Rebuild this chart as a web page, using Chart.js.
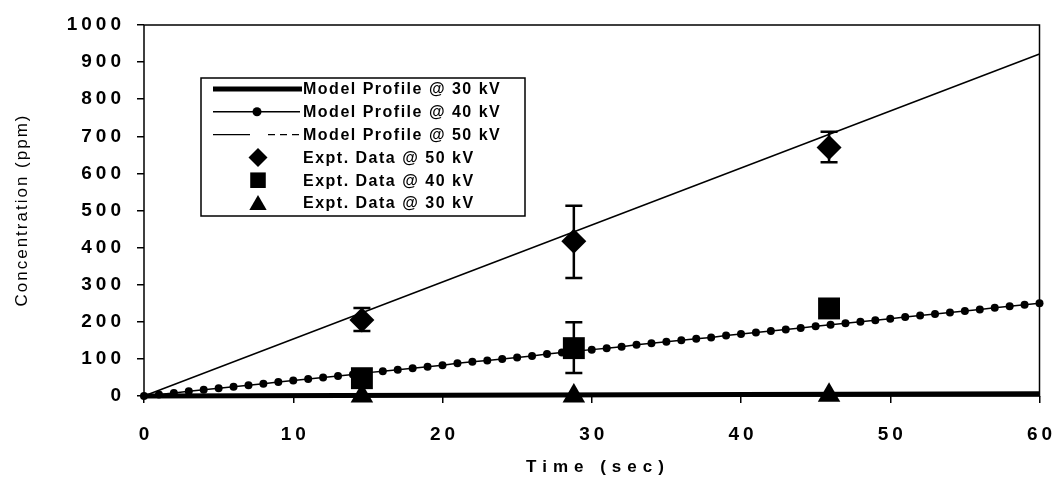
<!DOCTYPE html>
<html>
<head>
<meta charset="utf-8">
<script src="https://cdn.jsdelivr.net/npm/chart.js@4.4.1/dist/chart.umd.min.js"></script>
<style>
  html, body { margin: 0; padding: 0; background: #fff; }
  #wrap { width: 1055px; height: 478px; }
</style>
</head>
<body>
<div id="wrap"><canvas id="chart"></canvas></div>
<script>
// model profiles
const model30Time = [0, 60]
const model30Values = [0, 6]

const model40Time = [0, 1, 2, 3, 4, 5, 6, 7, 8, 9, 10, 11, 12, 13, 14, 15, 16, 17, 18, 19, 20,
  21, 22, 23, 24, 25, 26, 27, 28, 29, 30, 31, 32, 33, 34, 35, 36, 37, 38, 39, 40,
  41, 42, 43, 44, 45, 46, 47, 48, 49, 50, 51, 52, 53, 54, 55, 56, 57, 58, 59, 60]
const model40Values = [0, 4, 8, 13, 17, 21, 25, 29, 33, 38, 42, 46, 50, 54, 58, 63, 67, 71, 75, 79, 83,
  88, 92, 96, 100, 104, 108, 113, 117, 121, 125, 129, 133, 138, 142, 146, 150, 154, 158, 163, 167,
  171, 175, 179, 183, 188, 192, 196, 200, 204, 208, 213, 217, 221, 225, 229, 233, 238, 242, 246, 250]

const model50Time = [0, 60]
const model50Values = [0, 922]

// experimental data
const exptTime = [14.6, 28.8, 45.9]
const expt50 = [205, 417, 670]
const expt50Low = [175, 318, 630]
const expt50High = [237, 513, 712]
const expt40 = [48, 129, 236]
const expt40Low = [5, 62, null]
const expt40High = [70, 199, null]
const expt30 = [0, 0, 2]

const xTicks = [0, 10, 20, 30, 40, 50, 60]
const yTicks = [0, 100, 200, 300, 400, 500, 600, 700, 800, 900, 1000]

const FONT = "'Liberation Sans', Arial, sans-serif"

function pts(xs, ys) {
  return xs.map((x, i) => ({ x: x, y: ys[i] }))
}

function setSpacing(chart) {
  chart.ctx.letterSpacing = '4px'
}

const spacingPlugin = {
  id: 'spacing',
  beforeUpdate: setSpacing,
  beforeLayout: setSpacing,
  beforeDraw: setSpacing
}

// plot frame + error bars, under the markers
const framePlugin = {
  id: 'frame',
  beforeDatasetsDraw(chart) {
    const ctx = chart.ctx
    const a = chart.chartArea
    const x = chart.scales.x
    const y = chart.scales.y
    ctx.save()
    ctx.strokeStyle = '#000'
    ctx.lineWidth = 1.5
    ctx.strokeRect(a.left, a.top, a.right - a.left, a.bottom - a.top)

    const bars = [[expt50Low, expt50High], [expt40Low, expt40High]]
    ctx.lineWidth = 2.5
    bars.forEach(([lo, hi]) => {
      exptTime.forEach((t, i) => {
        if (lo[i] == null) return
        const px = x.getPixelForValue(t)
        const p1 = y.getPixelForValue(lo[i])
        const p2 = y.getPixelForValue(hi[i])
        ctx.beginPath()
        ctx.moveTo(px, p1); ctx.lineTo(px, p2)
        ctx.moveTo(px - 8.5, p1); ctx.lineTo(px + 8.5, p1)
        ctx.moveTo(px - 8.5, p2); ctx.lineTo(px + 8.5, p2)
        ctx.stroke()
      })
    })
    ctx.restore()
  }
}

// legend box and axis titles
const legendPlugin = {
  id: 'boxLegend',
  afterDraw(chart) {
    const ctx = chart.ctx
    const draw = Chart.helpers.drawPoint
    ctx.save()
    ctx.fillStyle = '#fff'
    ctx.strokeStyle = '#000'
    ctx.lineWidth = 1.5
    ctx.fillRect(201, 78, 324, 138)
    ctx.strokeRect(201, 78, 324, 138)

    const labels = ['Model Profile @ 30 kV', 'Model Profile @ 40 kV', 'Model Profile @ 50 kV',
      'Expt. Data @ 50 kV', 'Expt. Data @ 40 kV', 'Expt. Data @ 30 kV']
    const rowY = labels.map((l, i) => 89 + i * 22.8)

    ctx.fillStyle = '#000'
    ctx.strokeStyle = '#000'
    // 30 kV thick line
    ctx.lineWidth = 5
    ctx.beginPath(); ctx.moveTo(213, rowY[0]); ctx.lineTo(302, rowY[0]); ctx.stroke()
    // 40 kV line with marker
    ctx.lineWidth = 1.5
    ctx.beginPath(); ctx.moveTo(213, rowY[1]); ctx.lineTo(300, rowY[1]); ctx.stroke()
    draw(ctx, { pointStyle: 'circle', radius: 4.5, borderWidth: 0 }, 257, rowY[1])
    // 50 kV dashed
    ctx.lineWidth = 1.2
    ctx.beginPath(); ctx.moveTo(213, rowY[2]); ctx.lineTo(250, rowY[2]); ctx.stroke()
    ctx.setLineDash([7, 5])
    ctx.beginPath(); ctx.moveTo(268, rowY[2]); ctx.lineTo(301, rowY[2]); ctx.stroke()
    ctx.setLineDash([])
    draw(ctx, { pointStyle: 'rectRot', radius: 9.5, borderWidth: 0 }, 258, rowY[3])
    draw(ctx, { pointStyle: 'rect', radius: 11, borderWidth: 0 }, 258, rowY[4])
    draw(ctx, { pointStyle: 'triangle', radius: 10, borderWidth: 0 }, 258, rowY[5] + 2)

    ctx.letterSpacing = '1.5px'
    ctx.font = 'bold 16px ' + FONT
    ctx.textBaseline = 'middle'
    ctx.textAlign = 'left'
    labels.forEach((l, i) => ctx.fillText(l, 303, rowY[i] + 1))

    // axis titles
    ctx.letterSpacing = '6px'
    ctx.font = 'bold 17px ' + FONT
    ctx.textAlign = 'center'
    ctx.fillText('Time (sec)', 598, 467)

    ctx.letterSpacing = '2px'
    ctx.font = '17px ' + FONT
    ctx.translate(22, 210)
    ctx.rotate(-Math.PI / 2)
    ctx.fillText('Concentration (ppm)', 0, 0)
    ctx.restore()
  }
}

new Chart(document.getElementById('chart'), {
  type: 'line',
  data: {
    datasets: [
      {
        label: 'Expt. Data @ 50 kV',
        data: pts(exptTime, expt50),
        showLine: false,
        pointStyle: 'rectRot',
        pointRadius: 12.5,
        pointBorderWidth: 0,
        backgroundColor: '#000',
        borderColor: '#000',
        clip: false
      },
      {
        label: 'Expt. Data @ 40 kV',
        data: pts(exptTime, expt40),
        showLine: false,
        pointStyle: 'rect',
        pointRadius: 15.5,
        pointBorderWidth: 0,
        backgroundColor: '#000',
        borderColor: '#000',
        clip: false
      },
      {
        label: 'Expt. Data @ 30 kV',
        data: pts(exptTime, expt30),
        showLine: false,
        pointStyle: 'triangle',
        pointRadius: 13,
        pointBorderWidth: 0,
        backgroundColor: '#000',
        borderColor: '#000',
        clip: false
      },
      {
        label: 'Model Profile @ 30 kV',
        data: pts(model30Time, model30Values),
        borderColor: '#000',
        borderWidth: 5,
        pointRadius: 0,
        clip: false
      },
      {
        label: 'Model Profile @ 40 kV',
        data: pts(model40Time, model40Values),
        borderColor: '#000',
        backgroundColor: '#000',
        borderWidth: 1.5,
        pointRadius: 4,
        pointBorderWidth: 0,
        clip: false
      },
      {
        label: 'Model Profile @ 50 kV',
        data: pts(model50Time, model50Values),
        borderColor: '#000',
        borderWidth: 1.5,
        pointRadius: 0,
        clip: false
      }
    ]
  },
  options: {
    responsive: true,
    maintainAspectRatio: false,
    animation: false,
    events: [],
    layout: {
      padding: { left: 0, right: 14, top: 25, bottom: 0 }
    },
    plugins: {
      legend: { display: false },
      tooltip: { enabled: false }
    },
    scales: {
      x: {
        type: 'linear',
        min: 0,
        max: 60,
        afterBuildTicks: (s) => { s.ticks = xTicks.map(v => ({ value: v })) },
        afterFit: (s) => { s.height = 82; s.paddingLeft = 0; s.paddingRight = 0 },
        border: { display: false },
        grid: { drawOnChartArea: false, drawTicks: true, tickLength: 7, color: '#000', lineWidth: 1.5 },
        ticks: {
          autoSkip: false,
          maxRotation: 0,
          padding: 20,
          labelOffset: 2,
          color: '#000',
          callback: (v) => String(v),
          font: { family: FONT, size: 19, weight: 'bold' }
        }
      },
      y: {
        min: 0,
        max: 1000,
        afterBuildTicks: (s) => { s.ticks = yTicks.map(v => ({ value: v })) },
        afterFit: (s) => { s.width = 144; s.paddingTop = 0; s.paddingBottom = 0 },
        border: { display: false },
        grid: { drawOnChartArea: false, drawTicks: true, tickLength: 7, color: '#000', lineWidth: 1.5 },
        ticks: {
          autoSkip: false,
          padding: 12,
          color: '#000',
          callback: (v) => String(v),
          font: { family: FONT, size: 19, weight: 'bold' }
        }
      }
    }
  },
  plugins: [spacingPlugin, framePlugin, legendPlugin]
})
</script>
</body>
</html>
